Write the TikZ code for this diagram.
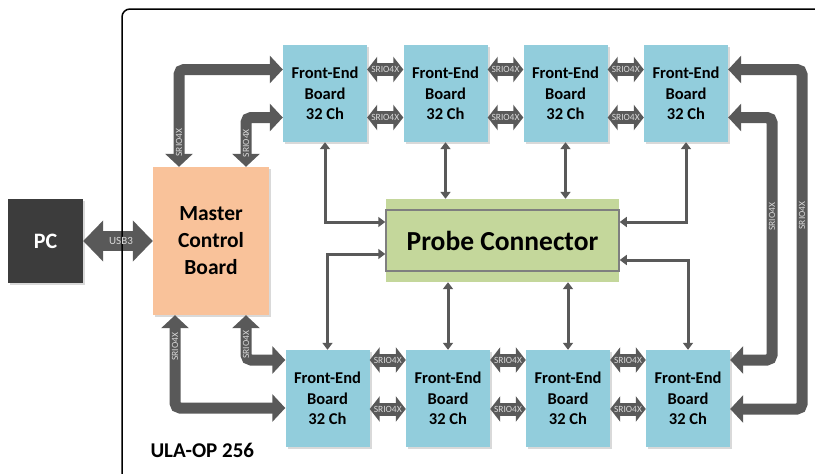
\documentclass[tikz,border=0pt]{standalone}
\usepackage{fontspec}
\setmainfont{Carlito}
\usetikzlibrary{calc, positioning}
\usetikzlibrary{arrows.meta}
\usetikzlibrary{shadows}

\definecolor{pcgray}{HTML}{3C3C3C}
\definecolor{febblue}{HTML}{92CDDC}
\definecolor{mcbpeach}{HTML}{F9C29A}
\definecolor{probegreen}{HTML}{C4D79B}
\definecolor{probeline}{HTML}{7F7F7F}
\definecolor{arrgray}{HTML}{595959}
\definecolor{labgray}{HTML}{D9D9D9}

\begin{document}
\begin{tikzpicture}[x=1pt,y=-1pt,
  shade box/.style={drop shadow={shadow xshift=2pt,shadow yshift=-2pt,opacity=0.3}},
  board/.style={shade box,fill=febblue,minimum width=84pt,minimum height=97pt,inner sep=0pt,align=center,
    font=\bfseries\fontsize{16.5}{20.5}\selectfont},
  bigarr/.style={draw=arrgray,line width=11pt,rounded corners=5pt,
    {Triangle[width=27pt,length=13pt]}-{Triangle[width=27pt,length=13pt]}},
  smarr/.style={draw=arrgray,line width=13pt,
    {Triangle[width=25pt,length=10pt]}-{Triangle[width=25pt,length=10pt]}},
  thinarr/.style={draw=arrgray,line width=3pt,
    {Triangle[width=10pt,length=7pt]}-{Triangle[width=10pt,length=7pt]}},
  srio/.style={text=labgray,inner sep=0pt,font=\fontsize{9.5}{9.5}\selectfont},
  vsrio/.style={srio,rotate=90}]

\useasboundingbox (0,0) rectangle (815,474);

\node[shade box,fill=pcgray,minimum width=75pt,minimum height=84pt,text=white,
  font=\bfseries\fontsize{22}{26}\selectfont] (pc) at (45.5,241) {PC};
\node[shade box,fill=mcbpeach,minimum width=116pt,minimum height=148pt,align=center,
  font=\bfseries\fontsize{21.5}{27}\selectfont] (mcb) at (211,241) {Master\\Control\\Board};

\node[board] (tf1) at (325,93.5) {Front-End\\Board\\32 Ch};
\node[board] (tf2) at (445.5,93.5) {Front-End\\Board\\32 Ch};
\node[board] (tf3) at (565.5,93.5) {Front-End\\Board\\32 Ch};
\node[board] (tf4) at (686,93.5) {Front-End\\Board\\32 Ch};
\node[board] (bf1) at (327.5,398.5) {Front-End\\Board\\32 Ch};
\node[board] (bf2) at (448,398.5) {Front-End\\Board\\32 Ch};
\node[board] (bf3) at (568,398.5) {Front-End\\Board\\32 Ch};
\node[board] (bf4) at (688,398.5) {Front-End\\Board\\32 Ch};

\node[fill=probegreen,minimum width=233pt,minimum height=83pt,inner sep=0pt] (probe) at (502.5,240.5) {};
\node[draw=probeline,line width=1.5pt,minimum width=233pt,minimum height=61pt,inner sep=0pt,
  font=\bfseries\fontsize{27.5}{30}\selectfont] (pin) at (probe.center) {Probe Connector};

\node[anchor=base west,font=\bfseries\fontsize{21}{24}\selectfont] (ula) at (147,457) {ULA-OP 256};

\draw[draw=arrgray,line width=20pt,{Triangle[width=40pt,length=20pt]}-{Triangle[width=40pt,length=20pt]}]
  (pc.east) -- (mcb.west);

\coordinate (a1s) at ([xshift=-32pt]mcb.north);
\coordinate (a1e) at ([yshift=24pt]tf1.west);
\coordinate (a2s) at ([xshift=35pt]mcb.north);
\coordinate (a2e) at ([yshift=-24pt]tf1.west);
\coordinate (a3s) at ([xshift=-36pt]mcb.south);
\coordinate (a3e) at ([yshift=-9.5pt]bf1.west);
\coordinate (a4s) at ([xshift=35pt]mcb.south);
\coordinate (a4e) at ([yshift=38.5pt]bf1.west);
\draw[bigarr] (a1s) |- node[vsrio,pos=0.125] {SRIO4X} (a1e);
\draw[bigarr] (a2s) |- node[vsrio,pos=0.24] {SRIO4X} (a2e);
\draw[bigarr] (a3s) |- node[vsrio,pos=0.17] {SRIO4X} (a3e);
\draw[bigarr] (a4s) |- node[vsrio,pos=0.33] {SRIO4X} (a4e);

\coordinate (r1) at (802,0);
\coordinate (r2) at (772,0);
\coordinate (a5s) at ([yshift=24pt]tf4.east);
\coordinate (a5e) at ([yshift=-10.5pt]bf4.east);
\coordinate (a6s) at ([yshift=-24pt]tf4.east);
\coordinate (a6e) at ([yshift=38.5pt]bf4.east);
\draw[bigarr] (a5s) -- (a5s -| r1) -- node[vsrio,pos=0.43] {SRIO4X} (a5e -| r1) -- (a5e);
\draw[bigarr] (a6s) -- (a6s -| r2) -- node[vsrio,pos=0.41] {SRIO4X} (a6e -| r2) -- (a6e);

\foreach \a/\b in {tf1/tf2,tf2/tf3,tf3/tf4}{
  \draw[smarr] ([yshift=24pt]\a.east) -- node[srio] {SRIO4X} ([yshift=24pt]\b.west);
  \draw[smarr] ([yshift=-24pt]\a.east) -- node[srio] {SRIO4X} ([yshift=-24pt]\b.west);
}
\foreach \a/\b in {bf1/bf2,bf2/bf3,bf3/bf4}{
  \draw[smarr] ([yshift=38.5pt]\a.east) -- node[srio] {SRIO4X} ([yshift=38.5pt]\b.west);
  \draw[smarr] ([yshift=-10.5pt]\a.east) -- node[srio] {SRIO4X} ([yshift=-10.5pt]\b.west);
}

\draw[thinarr] (tf1.south) |- ([yshift=18.5pt]pin.west);
\draw[thinarr] (tf2.south) -- (tf2.south |- probe.north);
\draw[thinarr] (tf3.south) -- (tf3.south |- probe.north);
\draw[thinarr] (tf4.south) |- ([yshift=18.5pt]pin.east);
\draw[thinarr] ([yshift=-13.5pt]pin.west) -| (bf1.north);
\draw[thinarr] (bf2.north |- probe.south) -- (bf2.north);
\draw[thinarr] (bf3.north |- probe.south) -- (bf3.north);
\draw[thinarr] ([yshift=-19.5pt]pin.east) -| (bf4.north);

\draw[line width=1.5pt,rounded corners=8pt] (122,9) rectangle (840,500);
\path (pc.east) -- node[text=labgray,inner sep=0pt,xshift=3pt,font=\fontsize{11}{11}\selectfont] {USB3} (mcb.west);
\end{tikzpicture}
\end{document}
